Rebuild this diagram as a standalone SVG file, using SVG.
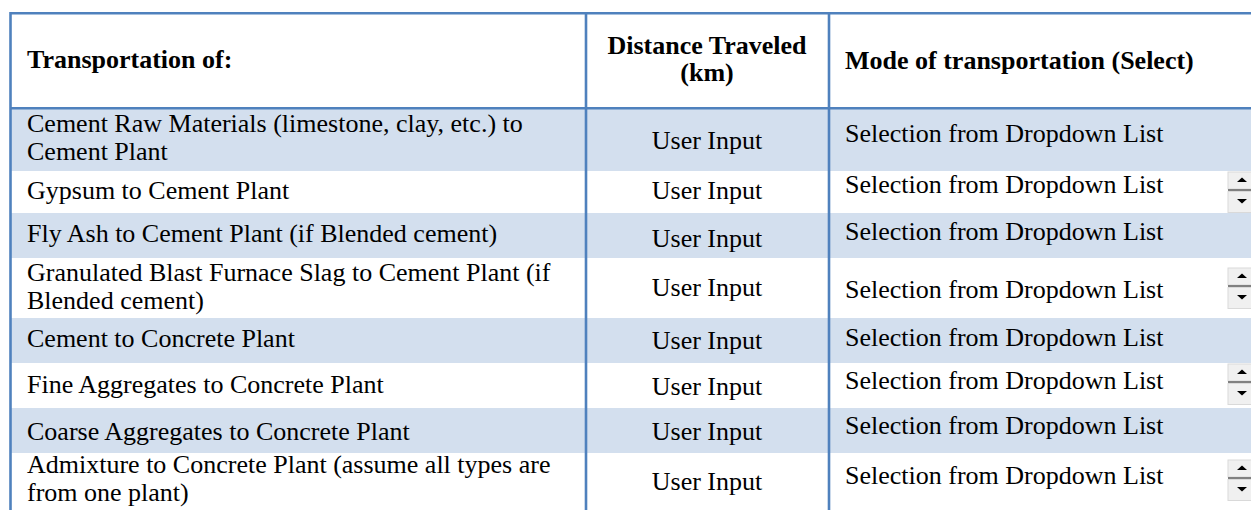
<svg xmlns="http://www.w3.org/2000/svg" width="1251" height="510" viewBox="0 0 1251 510">
  <style>
    .cell { font-family: "Liberation Serif", "Times New Roman", serif; font-size: 26px; fill: #000; }
    .head { font-weight: bold; }
    .mid { text-anchor: middle; }
    .band { fill: #D3DFEE; }
    .rule { stroke: #4F81BD; stroke-width: 2.6; fill: none; }
  </style>
  <defs>
    <!-- small up/down spin button shown beside each dropdown -->
    <symbol id="spin" overflow="visible">
      <rect x="0" y="0" width="24" height="17" fill="#F0F0F0" stroke="#D9D9D9" stroke-width="1"/>
      <path d="M9,10 L19,10 L14,5.5 Z" fill="#000"/>
      <rect x="0" y="17" width="24" height="2.5" fill="#808080"/>
      <rect x="0" y="19.5" width="24" height="21" fill="#F0F0F0" stroke="#D9D9D9" stroke-width="1"/>
      <path d="M9,27 L19,27 L14,31.5 Z" fill="#000"/>
    </symbol>
  </defs>

  <rect width="1251" height="510" fill="#fff"/>

  <!-- shaded bands on alternate rows -->
  <g id="bands">
    <rect class="band" x="10" y="109" width="1241" height="62"/>
    <rect class="band" x="10" y="213" width="1241" height="45"/>
    <rect class="band" x="10" y="318" width="1241" height="45"/>
    <rect class="band" x="10" y="408" width="1241" height="45"/>
  </g>

  <!-- table rules -->
  <g id="rules">
    <line class="rule" x1="10.5" y1="13.3" x2="1251" y2="13.3"/>
    <line class="rule" x1="10.5" y1="108.3" x2="1251" y2="108.3"/>
    <line class="rule" x1="10.5" y1="12" x2="10.5" y2="510"/>
    <line class="rule" x1="586" y1="12" x2="586" y2="510"/>
    <line class="rule" x1="829" y1="12" x2="829" y2="510"/>
  </g>

  <g id="header">
    <text class="cell head" x="27" y="68">Transportation of:</text>
    <text class="cell head mid" x="707" y="54">Distance Traveled</text>
    <text class="cell head mid" x="707" y="81">(km)</text>
    <text class="cell head" x="845" y="69">Mode of transportation (Select)</text>
  </g>

  <g id="row1">
    <text class="cell" x="27" y="132">Cement Raw Materials (limestone, clay, etc.) to</text>
    <text class="cell" x="27" y="160">Cement Plant</text>
    <text class="cell mid" x="707" y="149">User Input</text>
    <text class="cell" x="845" y="142">Selection from Dropdown List</text>
  </g>

  <g id="row2">
    <text class="cell" x="27" y="199">Gypsum to Cement Plant</text>
    <text class="cell mid" x="707" y="199">User Input</text>
    <text class="cell" x="845" y="193">Selection from Dropdown List</text>
    <use href="#spin" x="1228" y="172"/>
  </g>

  <g id="row3">
    <text class="cell" x="27" y="242">Fly Ash to Cement Plant (if Blended cement)</text>
    <text class="cell mid" x="707" y="247">User Input</text>
    <text class="cell" x="845" y="240">Selection from Dropdown List</text>
  </g>

  <g id="row4">
    <text class="cell" x="27" y="281">Granulated Blast Furnace Slag to Cement Plant (if</text>
    <text class="cell" x="27" y="309">Blended cement)</text>
    <text class="cell mid" x="707" y="296">User Input</text>
    <text class="cell" x="845" y="298">Selection from Dropdown List</text>
    <use href="#spin" x="1228" y="268"/>
  </g>

  <g id="row5">
    <text class="cell" x="27" y="347">Cement to Concrete Plant</text>
    <text class="cell mid" x="707" y="349">User Input</text>
    <text class="cell" x="845" y="346">Selection from Dropdown List</text>
  </g>

  <g id="row6">
    <text class="cell" x="27" y="393">Fine Aggregates to Concrete Plant</text>
    <text class="cell mid" x="707" y="395">User Input</text>
    <text class="cell" x="845" y="389">Selection from Dropdown List</text>
    <use href="#spin" x="1228" y="364"/>
  </g>

  <g id="row7">
    <text class="cell" x="27" y="440">Coarse Aggregates to Concrete Plant</text>
    <text class="cell mid" x="707" y="440">User Input</text>
    <text class="cell" x="845" y="434">Selection from Dropdown List</text>
  </g>

  <g id="row8">
    <text class="cell" x="27" y="473">Admixture to Concrete Plant (assume all types are</text>
    <text class="cell" x="27" y="501">from one plant)</text>
    <text class="cell mid" x="707" y="490">User Input</text>
    <text class="cell" x="845" y="484">Selection from Dropdown List</text>
    <use href="#spin" x="1228" y="460"/>
  </g>
</svg>
